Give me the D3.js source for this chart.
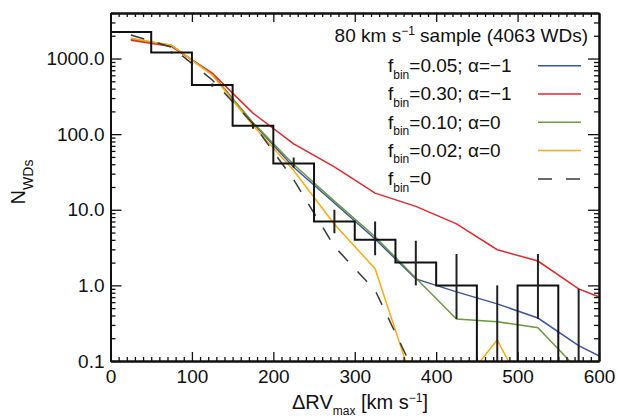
<!DOCTYPE html>
<html>
<head>
<meta charset="utf-8">
<script src="https://cdn.jsdelivr.net/npm/d3@7"></script>
<style>
  html, body { margin: 0; padding: 0; background: #fff; }
  svg { display: block; }
  text { font-family: "Liberation Sans", Arial, Helvetica, sans-serif; fill: #111; }
</style>
</head>
<body>
<svg id="chart" width="618" height="419"></svg>
<script>
// ---------------- data ----------------
const binCenters = [25, 75, 125, 175, 225, 275, 325, 375, 425, 475, 525, 575];
const binWidth = 50;
const histCounts = [2240, 1200, 445, 129, 41, 7, 4, 2, 1, 0, 1, 0];
const errLow  = [2193, 1165, 424, 118, 36, 4.9, 2.5, 1.0, 0.36, 0, 0.36, 0];
const errHigh = [2287, 1235, 466, 140, 49, 10, 7.0, 3.9, 2.6, 1.0, 2.6, 0.9];

const modelX = [25, 75, 125, 175, 225, 275, 325, 375, 425, 475, 525, 575, 625];
const fbin005a1 = [1800, 1480, 620, 140, 36.5, 12.3, 4.1, 1.22, 0.82, 0.57, 0.37, 0.16, 0.085];
const fbin030a1 = [1750, 1440, 640, 190, 74.5, 37, 16.6, 11.1, 6.5, 2.96, 2.1, 0.90, 0.55];
const fbin010a0 = [1820, 1490, 615, 142, 39.7, 13, 4.4, 1.25, 0.36, 0.33, 0.276, 0.075, 0.03];
const fbin002a0 = [1850, 1500, 605, 130, 33, 6.45, 1.66, 0.039, 0.04, 0.19, 0.018, 0.01, 0.01];
const fbin0     = [2050, 1415, 520, 138, 25, 3.27, 0.86, 0.064, 0.005, 0.005, 0.005, 0.005, 0.005];

const seriesNames  = ["0.05; α=−1", "0.30; α=−1", "0.10; α=0", "0.02; α=0", "0"];
const seriesValues = [fbin005a1, fbin030a1, fbin010a0, fbin002a0, fbin0];
const seriesColors = ["#3a56a8", "#e8262a", "#6b9a3c", "#ffa812", "#3a3a3a"];
const seriesDash   = [null, null, null, null, "14,14"];

const xTicks = [0, 100, 200, 300, 400, 500, 600];
const yTicks = [0.1, 1, 10, 100, 1000];
const yTickLabels = ["0.1", "1.0", "10.0", "100.0", "1000.0"];
const titleText = "80 km s";

// ---------------- layout ----------------
const svg = d3.select("#chart");
const L = 110.5, R = 599, T = 13, B = 361;

const x = d3.scaleLinear().domain([0, 600]).range([L, R]);
const y = d3.scaleLog().domain([0.1, 4000]).range([B, T]);
const yc = v => (v <= 0 ? B + 5 : y(v));

svg.append("defs").append("clipPath").attr("id", "clip")
  .append("rect").attr("x", L).attr("y", T).attr("width", R - L).attr("height", B - T);

const plot = svg.append("g").attr("clip-path", "url(#clip)");

// model curves
const line = d3.line().x((d, i) => x(modelX[i])).y(d => y(d));
seriesValues.forEach((vals, k) => {
  plot.append("path")
    .attr("d", line(vals))
    .attr("fill", "none")
    .attr("stroke", seriesColors[k])
    .attr("stroke-width", 1.5)
    .attr("stroke-dasharray", seriesDash[k]);
});

// histogram steps
let p = d3.path();
binCenters.forEach((c, i) => {
  const x0 = x(c - binWidth / 2), x1 = x(c + binWidth / 2);
  const yy = yc(histCounts[i]);
  if (i === 0) p.moveTo(x0, yy); else p.lineTo(x0, yy);
  p.lineTo(x1, yy);
});
plot.append("path").attr("d", p.toString()).attr("fill", "none")
  .attr("stroke", "#111").attr("stroke-width", 2);

// error bars
binCenters.forEach((c, i) => {
  plot.append("line")
    .attr("x1", x(c)).attr("x2", x(c))
    .attr("y1", yc(errLow[i])).attr("y2", yc(errHigh[i]))
    .attr("stroke", "#222").attr("stroke-width", 2);
});

// ---------------- axes ----------------
const xMinor = d3.range(0, 601, 10).filter(v => v % 100 !== 0);
const yMinor = [];
[0.1, 1, 10, 100, 1000].forEach(d => { for (let m = 2; m <= 9; m++) if (d * m <= 4000) yMinor.push(d * m); });

function styleAxis(g) {
  g.selectAll("path.domain").attr("stroke", "#111").attr("stroke-width", 2);
  g.selectAll(".tick line").attr("stroke", "#111").attr("stroke-width", 1.3);
  g.selectAll(".tick text").style("font-size", "19px")
    .style("font-family", '"Liberation Sans", Arial, sans-serif').attr("fill", "#111");
}

// bottom
svg.append("g").attr("transform", `translate(0,${B})`)
  .call(d3.axisBottom(x).tickValues(xTicks).tickSizeInner(-9).tickSizeOuter(0).tickPadding(9).tickFormat(d3.format("d")))
  .call(styleAxis);
svg.append("g").attr("transform", `translate(0,${B})`)
  .call(d3.axisBottom(x).tickValues(xMinor).tickSizeInner(-4).tickSizeOuter(0).tickFormat(""))
  .call(styleAxis);
// top
svg.append("g").attr("transform", `translate(0,${T})`)
  .call(d3.axisTop(x).tickValues(xTicks).tickSizeInner(-9).tickSizeOuter(0).tickFormat(""))
  .call(styleAxis);
svg.append("g").attr("transform", `translate(0,${T})`)
  .call(d3.axisTop(x).tickValues(xMinor).tickSizeInner(-4).tickSizeOuter(0).tickFormat(""))
  .call(styleAxis);
// left
svg.append("g").attr("transform", `translate(${L},0)`)
  .call(d3.axisLeft(y).tickValues(yTicks).tickSizeInner(-11).tickSizeOuter(0).tickPadding(6)
    .tickFormat((d, i) => yTickLabels[i]))
  .call(styleAxis);
svg.append("g").attr("transform", `translate(${L},0)`)
  .call(d3.axisLeft(y).tickValues(yMinor).tickSizeInner(-5).tickSizeOuter(0).tickFormat(""))
  .call(styleAxis);
// right
svg.append("g").attr("transform", `translate(${R},0)`)
  .call(d3.axisRight(y).tickValues(yTicks).tickSizeInner(-11).tickSizeOuter(0).tickFormat(""))
  .call(styleAxis);
svg.append("g").attr("transform", `translate(${R},0)`)
  .call(d3.axisRight(y).tickValues(yMinor).tickSizeInner(-5).tickSizeOuter(0).tickFormat(""))
  .call(styleAxis);

// ---------------- axis titles ----------------
const xt = svg.append("text").attr("x", 360).attr("y", 409).attr("text-anchor", "middle").style("font-size", "20px");
xt.append("tspan").text("ΔRV");
xt.append("tspan").attr("dy", 6).style("font-size", "12px").text("max");
xt.append("tspan").attr("dy", -6).text(" [km s");
xt.append("tspan").attr("dy", -7).style("font-size", "12px").text("−1");
xt.append("tspan").attr("dy", 7).text("]");

const yt = svg.append("text").attr("transform", "translate(25,182) rotate(-90)")
  .attr("text-anchor", "middle").style("font-size", "20px");
yt.append("tspan").text("N");
yt.append("tspan").attr("dy", 8).style("font-size", "14px").text("WDs");

// ---------------- legend ----------------
const tt = svg.append("text").attr("x", 588).attr("y", 42).attr("text-anchor", "end").style("font-size", "19px");
tt.append("tspan").text(titleText);
tt.append("tspan").attr("dy", -7).style("font-size", "12px").text("−1");
tt.append("tspan").attr("dy", 7).text(" sample (4063 WDs)");

seriesNames.forEach((name, k) => {
  const by = 72 + k * 28.3;
  const t = svg.append("text").attr("x", 388).attr("y", by).style("font-size", "19px");
  t.append("tspan").text("f");
  t.append("tspan").attr("dy", 6.5).style("font-size", "12px").text("bin");
  t.append("tspan").attr("dy", -6.5).text("=" + name);
  svg.append("line")
    .attr("x1", 538).attr("x2", 581).attr("y1", by - 6.3).attr("y2", by - 6.3)
    .attr("stroke", seriesColors[k]).attr("stroke-width", 1.5)
    .attr("stroke-dasharray", seriesDash[k]);
});
</script>
</body>
</html>
